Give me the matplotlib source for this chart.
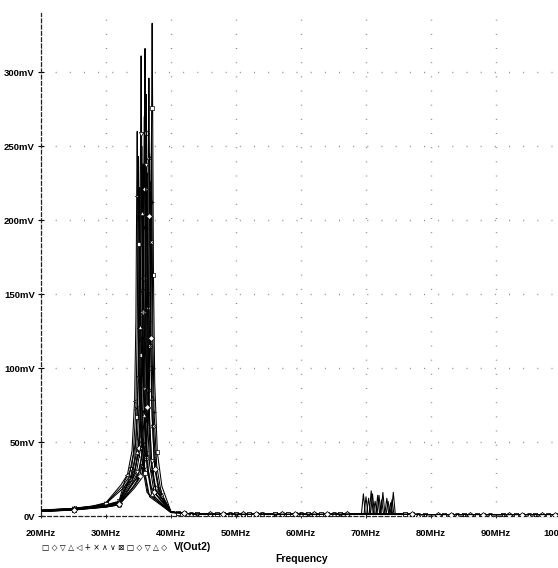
import matplotlib
matplotlib.use("Agg")
import matplotlib.pyplot as plt

# ---------------- data (MHz, mV) ----------------
freq_c1 = [20, 25, 30, 32, 34.6, 35.6, 36.3, 36.7, 36.9, 37.02, 37.1, 37.18, 37.3, 37.5, 37.9, 38.6, 40, 45, 55, 73.9, 74.2, 74.5, 80, 90, 100]
mv_c1 = [3.2, 4.4, 6.5, 8.0, 25, 34, 55, 100, 170, 276, 333, 273, 163, 90, 43, 20, 3.0, 1.3, 1.1, 1.5, 16, 1.4, 1.0, 1.0, 1.0]
freq_c2 = [20, 25, 30, 32, 33.5, 34.5, 35.2, 35.6, 35.8, 35.92, 36.0, 36.08, 36.2, 36.4, 36.8, 37.5, 40, 45, 55, 71.7, 72.0, 72.3, 80, 90, 100]
mv_c2 = [3.5, 4.8, 7.2, 9.0, 24, 32, 52, 95, 161, 262, 316, 259, 155, 85, 41, 19, 2.8, 1.3, 1.1, 1.4, 14, 1.3, 1.0, 1.0, 1.0]
freq_c3 = [20, 25, 30, 32, 32.9, 33.9, 34.6, 35.0, 35.2, 35.32, 35.4, 35.48, 35.6, 35.8, 36.2, 36.9, 40, 45, 55, 70.5, 70.8, 71.1, 80, 90, 100]
mv_c3 = [3.8, 5.0, 7.5, 10.0, 24, 32, 52, 93, 159, 258, 311, 255, 152, 84, 40, 19, 2.5, 1.2, 1.1, 1.4, 17, 1.3, 1.0, 1.0, 1.0]
freq_c4 = [20, 25, 30, 32, 34.1, 35.1, 35.8, 36.2, 36.4, 36.52, 36.6, 36.68, 36.8, 37.0, 37.4, 38.1, 40, 45, 55, 72.9, 73.2, 73.5, 80, 90, 100]
mv_c4 = [3.0, 4.2, 6.2, 7.8, 23, 31, 49, 89, 151, 246, 296, 243, 145, 80, 38, 18, 2.7, 1.3, 1.1, 1.4, 12, 1.3, 1.0, 1.0, 1.0]
freq_c5 = [20, 25, 28, 30, 32.3, 33.3, 34.0, 34.4, 34.6, 34.72, 34.8, 34.88, 35.0, 35.2, 35.6, 36.3, 40, 45, 55, 69.3, 69.6, 69.9, 80, 90, 100]
mv_c5 = [4.0, 5.2, 6.8, 9.0, 21, 28, 44, 78, 133, 216, 260, 213, 127, 70, 34, 16, 2.3, 1.2, 1.1, 1.4, 15, 1.3, 1.0, 1.0, 1.0]
freq_c6 = [20, 25, 30, 32, 34.5, 35.5, 36.2, 36.6, 36.8, 36.92, 37.0, 37.08, 37.2, 37.4, 37.8, 38.5, 40, 45, 55, 73.7, 74.0, 74.3, 80, 90, 100]
mv_c6 = [3.0, 4.0, 6.0, 7.5, 21, 28, 44, 78, 132, 214, 258, 212, 126, 70, 34, 15.5, 2.9, 1.3, 1.1, 1.4, 11, 1.3, 1.0, 1.0, 1.0]
freq_c7 = [20, 25, 28, 30, 32.5, 33.5, 34.2, 34.6, 34.8, 34.92, 35.0, 35.08, 35.2, 35.4, 35.8, 36.5, 40, 45, 55, 69.7, 70.0, 70.3, 80, 90, 100]
mv_c7 = [3.9, 5.1, 6.6, 8.6, 20, 26, 42, 73, 124, 202, 243, 199, 119, 66, 32, 15, 2.3, 1.2, 1.1, 1.4, 13, 1.3, 1.0, 1.0, 1.0]
freq_c8 = [20, 25, 30, 32, 33.2, 34.2, 34.9, 35.3, 35.5, 35.62, 35.7, 35.78, 35.9, 36.1, 36.5, 37.2, 40, 45, 55, 71.1, 71.4, 71.7, 80, 90, 100]
mv_c8 = [3.6, 4.7, 7.0, 9.2, 20, 26, 41, 72, 121, 198, 238, 195, 117, 64, 31, 14, 2.6, 1.2, 1.1, 1.4, 10, 1.3, 1.0, 1.0, 1.0]
freq_c9 = [20, 25, 30, 32, 33.8, 34.8, 35.5, 35.9, 36.1, 36.22, 36.3, 36.38, 36.5, 36.7, 37.1, 37.8, 40, 45, 55, 72.3, 72.6, 72.9, 80, 90, 100]
mv_c9 = [3.3, 4.5, 6.8, 8.5, 20, 26, 40, 70, 118, 193, 232, 190, 114, 63, 30, 14, 2.7, 1.3, 1.1, 1.4, 16, 1.3, 1.0, 1.0, 1.0]
freq_c10 = [20, 25, 30, 32, 34.4, 35.4, 36.1, 36.5, 36.7, 36.82, 36.9, 36.98, 37.1, 37.3, 37.7, 38.4, 40, 45, 55, 73.5, 73.8, 74.1, 80, 90, 100]
mv_c10 = [3.1, 4.1, 6.1, 7.6, 19, 25, 39, 69, 115, 188, 226, 185, 111, 61, 29, 13.6, 2.9, 1.3, 1.1, 1.4, 9, 1.3, 1.0, 1.0, 1.0]
freq_c11 = [20, 25, 28, 30, 32.7, 33.7, 34.4, 34.8, 35.0, 35.12, 35.2, 35.28, 35.4, 35.6, 36.0, 36.7, 40, 45, 55, 70.1, 70.4, 70.7, 80, 90, 100]
mv_c11 = [3.8, 5.0, 6.5, 8.4, 19, 25, 38, 67, 113, 184, 222, 182, 109, 60, 29, 13, 2.4, 1.2, 1.1, 1.4, 12, 1.3, 1.0, 1.0, 1.0]
freq_c12 = [20, 25, 30, 32, 33.4, 34.4, 35.1, 35.5, 35.7, 35.82, 35.9, 35.98, 36.1, 36.3, 36.7, 37.4, 40, 45, 55, 71.5, 71.8, 72.1, 80, 90, 100]
mv_c12 = [3.4, 4.6, 7.1, 9.1, 22, 29, 46, 81, 138, 224, 270, 221, 132, 73, 35, 16, 2.7, 1.3, 1.1, 1.4, 14, 1.3, 1.0, 1.0, 1.0]
freq_c13 = [20, 25, 30, 32, 33.7, 34.7, 35.4, 35.8, 36.0, 36.12, 36.2, 36.28, 36.4, 36.6, 37.0, 37.7, 40, 45, 55, 72.1, 72.4, 72.7, 80, 90, 100]
mv_c13 = [3.3, 4.5, 6.9, 8.7, 22, 30, 48, 86, 145, 237, 285, 234, 140, 77, 37, 17, 2.7, 1.3, 1.1, 1.4, 11, 1.3, 1.0, 1.0, 1.0]
freq_c14 = [20, 25, 30, 32, 33.0, 34.0, 34.7, 35.1, 35.3, 35.42, 35.5, 35.58, 35.7, 35.9, 36.3, 37.0, 40, 45, 55, 70.7, 71.0, 71.3, 80, 90, 100]
mv_c14 = [3.7, 4.9, 7.4, 9.6, 21, 27, 43, 76, 128, 208, 250, 205, 123, 68, 33, 15, 2.5, 1.2, 1.1, 1.4, 15, 1.3, 1.0, 1.0, 1.0]
freq_c15 = [20, 25, 30, 32, 34.2, 35.2, 35.9, 36.3, 36.5, 36.62, 36.7, 36.78, 36.9, 37.1, 37.5, 38.2, 40, 45, 55, 73.1, 73.4, 73.7, 80, 90, 100]
mv_c15 = [3.1, 4.3, 6.3, 7.9, 20, 27, 42, 74, 125, 203, 245, 201, 120, 66, 32, 15, 2.8, 1.3, 1.1, 1.4, 10, 1.3, 1.0, 1.0, 1.0]

# flat ~1 mV floor shared by all traces
floor_freq = [41, 42, 43, 44, 46, 47, 48, 49, 50, 51, 52, 53, 54, 56, 57, 58, 59, 60, 61, 62, 63, 64, 65, 66, 67,
              76, 77, 78, 79, 81, 82, 83, 84, 85, 86, 87, 88, 89, 91, 92, 93, 94, 95, 96, 97, 98, 99]
floor_mv = [2.2, 1.8, 1.6, 1.4, 1.3, 1.2, 1.2, 1.2, 1.2, 1.1, 1.1, 1.1, 1.1, 1.1, 1.1, 1.1, 1.1, 1.1, 1.1, 1.1, 1.1, 1.1, 1.1, 1.2, 1.2,
            1.1, 1.1, 1.0, 1.0, 1.0, 1.0, 1.0, 1.0, 1.0, 1.0, 1.0, 1.0, 1.0, 1.0, 1.0, 1.0, 1.0, 1.0, 1.0, 1.0, 1.0, 1.0]

curve_freqs = [freq_c1, freq_c2, freq_c3, freq_c4, freq_c5, freq_c6, freq_c7, freq_c8,
               freq_c9, freq_c10, freq_c11, freq_c12, freq_c13, freq_c14, freq_c15]
curve_mvs = [mv_c1, mv_c2, mv_c3, mv_c4, mv_c5, mv_c6, mv_c7, mv_c8,
             mv_c9, mv_c10, mv_c11, mv_c12, mv_c13, mv_c14, mv_c15]

x_ticks = [20, 30, 40, 50, 60, 70, 80, 90, 100]
x_tick_labels = ["20MHz", "30MHz", "40MHz", "50MHz", "60MHz", "70MHz", "80MHz", "90MHz", "100MHz"]
y_ticks = [0, 50, 100, 150, 200, 250, 300]
y_tick_labels = ["0V", "50mV", "100mV", "150mV", "200mV", "250mV", "300mV"]
trace_name = "V(Out2)"
x_title = "Frequency"
legend_symbols = "□ ◇ ▽ △ ◁ + × ∧ ∨ ⊠ □ ◇ ▽ △ ◇"

# ---------------- styling ----------------
markers = ['s', 'D', 'v', '^', '<', '+', 'x', r'$\wedge$', r'$\vee$', 'X',
           's', 'D', 'v', '^', 'D']
label_font = ['Liberation Sans', 'DejaVu Sans']

W, H = 558, 568
fig = plt.figure(figsize=(W / 100, H / 100), dpi=100)
fig.patch.set_facecolor('white')

x0, x1 = 41, 561
y0, y1 = 516, 13
ax = fig.add_axes([x0 / W, 1 - y0 / H, (x1 - x0) / W, (y0 - y1) / H])
ax.set_xlim(20, 100)
ax.set_ylim(0, 340)

for i, (f, v) in enumerate(zip(curve_freqs, curve_mvs)):
    pts = sorted(zip(list(f) + floor_freq, list(v) + floor_mv))
    ff = [p[0] for p in pts]
    vv = [p[1] for p in pts]
    peak_lo = ff.index(f[4])
    every = [1, 3] + [peak_lo + k for k in ((1, 3, 5, 8, 10) if i % 2 == 0 else (2, 4, 7, 9, 11))]
    every += [j for j, fr in enumerate(ff) if fr in floor_freq and (floor_freq.index(fr) + i) % 5 == 0]
    ax.plot(ff, vv, color='black', lw=0.75, marker=markers[i], markersize=3.0,
            markerfacecolor='white', markeredgecolor='black', markeredgewidth=0.5,
            markevery=sorted(set(every)), zorder=3)

for s in ['top', 'right']:
    ax.spines[s].set_visible(False)
for s in ['left', 'bottom']:
    ax.spines[s].set_linestyle((0, (3, 2)))
    ax.spines[s].set_linewidth(0.9)
    ax.spines[s].set_color('#222222')

ax.set_xticks(x_ticks)
ax.set_xticklabels(x_tick_labels)
ax.set_yticks(y_ticks)
ax.set_yticklabels(y_tick_labels)
ax.tick_params(axis='y', direction='inout', length=5, width=0.8, pad=2)
ax.tick_params(axis='x', direction='inout', length=3, width=0.6, pad=8)
for lab in ax.get_xticklabels() + ax.get_yticklabels():
    lab.set_family(label_font)
    lab.set_fontsize(6.8)
    lab.set_fontweight('bold')

ax.grid(True, color='#8a8a8a', lw=1.0, linestyle=(0, (0.7, 9.5)))
ax.set_axisbelow(True)

fig.text(302 / W, 1 - 559 / H, x_title, family=label_font, fontsize=7.5, fontweight='bold',
         ha='center', va='center')

fig.text(42 / W, 1 - 547 / H, legend_symbols, fontsize=5.5, family='DejaVu Sans',
         va='center', ha='left')
fig.text(174 / W, 1 - 547 / H, trace_name, fontsize=7.5, family=label_font,
         fontweight='bold', va='center', ha='left')

fig.savefig("out.png", dpi=100, facecolor='white')
